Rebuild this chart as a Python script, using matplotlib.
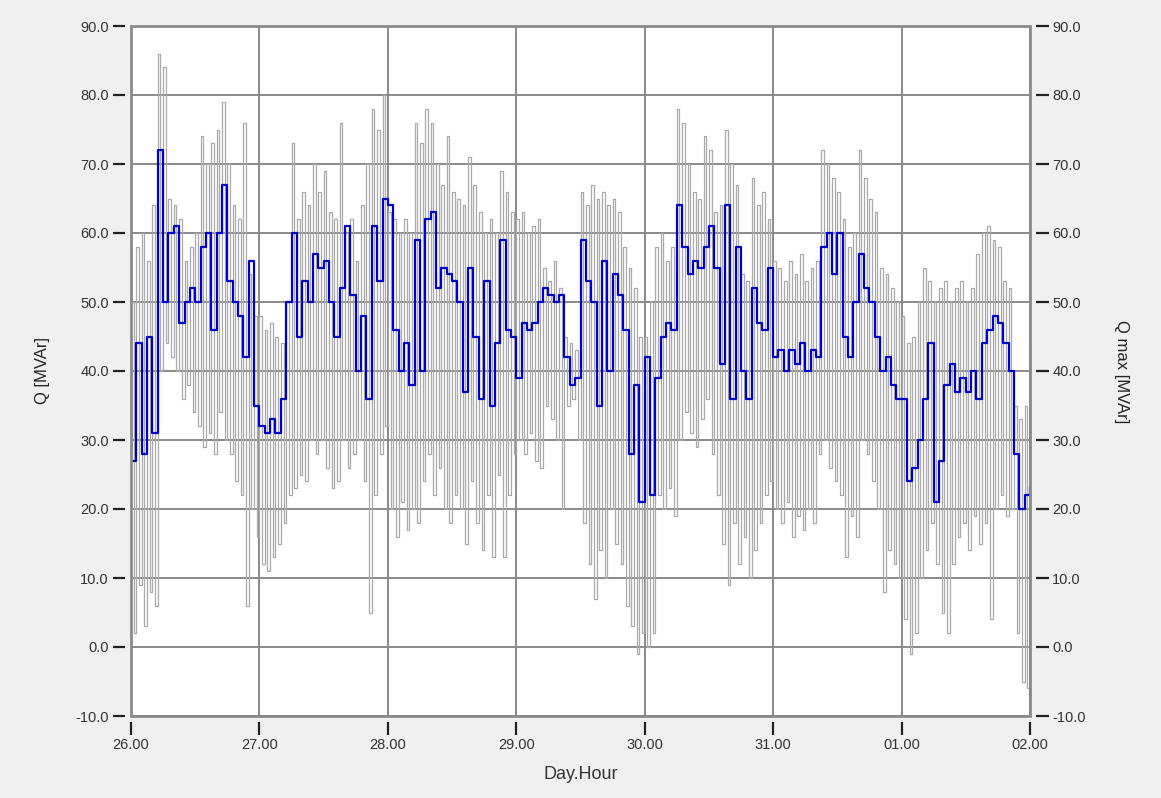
import numpy as np
import matplotlib
matplotlib.use("Agg")
import matplotlib.pyplot as plt
from matplotlib.patches import Rectangle

# Hourly reactive power Q [MVAr], one row per day (26 .. 01), plus final sample at 02.00
q_values = [
    27, 44, 28, 45, 31, 72, 50, 60, 61, 47, 50, 52, 50, 58, 60, 46, 60, 67, 53, 50, 48, 42, 56, 35,
    32, 31, 33, 31, 36, 50, 60, 45, 53, 50, 57, 55, 56, 50, 45, 52, 61, 51, 40, 48, 36, 61, 53, 65,
    64, 46, 40, 44, 38, 59, 40, 62, 63, 52, 55, 54, 53, 50, 37, 55, 45, 36, 53, 35, 44, 59, 46, 45,
    39, 47, 46, 47, 50, 52, 51, 50, 51, 42, 38, 39, 59, 53, 50, 35, 56, 40, 54, 51, 46, 28, 38, 21,
    42, 22, 39, 45, 47, 46, 64, 58, 54, 56, 55, 58, 61, 55, 41, 64, 36, 58, 40, 36, 52, 47, 46, 55,
    42, 43, 40, 43, 41, 44, 40, 43, 42, 58, 60, 54, 60, 45, 42, 50, 57, 52, 50, 45, 40, 42, 38, 36,
    36, 24, 26, 30, 36, 44, 21, 27, 38, 41, 37, 39, 37, 40, 36, 44, 46, 48, 47, 44, 40, 28, 20, 22,
    23,
]

# Hourly upper and lower swing of Q max [MVAr]
qmax_high = [
    50, 58, 60, 56, 64, 86, 84, 65, 64, 62, 56, 58, 60, 74, 70, 73, 75, 79, 70, 64, 62, 76, 54, 48,
    48, 46, 47, 45, 44, 50, 73, 62, 66, 64, 70, 66, 69, 63, 62, 76, 60, 62, 56, 64, 70, 78, 75, 80,
    63, 62, 60, 62, 60, 76, 73, 78, 76, 70, 67, 74, 66, 65, 64, 71, 67, 63, 60, 62, 60, 69, 66, 63,
    62, 63, 60, 61, 62, 55, 53, 56, 52, 45, 44, 43, 66, 64, 67, 65, 66, 64, 65, 63, 58, 55, 52, 45,
    45, 50, 58, 60, 56, 58, 78, 76, 70, 66, 65, 74, 72, 63, 64, 75, 70, 67, 54, 53, 68, 64, 66, 62,
    56, 55, 53, 56, 54, 57, 53, 55, 56, 72, 70, 68, 66, 62, 58, 60, 72, 68, 65, 63, 55, 54, 52, 50,
    48, 44, 45, 50, 55, 53, 50, 52, 53, 50, 52, 53, 50, 52, 57, 60, 61, 59, 58, 53, 52, 35, 33, 35,
    30,
]
qmax_low = [
    2, 9, 3, 8, 6, 40, 44, 42, 40, 36, 38, 34, 32, 29, 31, 28, 34, 30, 28, 24, 22, 6, 20, 16,
    12, 11, 13, 15, 18, 22, 23, 25, 24, 30, 28, 30, 26, 23, 24, 30, 26, 28, 30, 24, 5, 22, 28, 32,
    20, 16, 21, 17, 20, 18, 24, 28, 22, 26, 20, 18, 22, 20, 15, 24, 18, 14, 22, 13, 25, 13, 22, 28,
    30, 28, 31, 27, 26, 35, 33, 30, 20, 35, 36, 30, 18, 12, 7, 14, 10, 20, 15, 12, 6, 3, -1, 2,
    0, 2, 22, 20, 23, 19, 30, 34, 31, 29, 33, 36, 28, 22, 15, 9, 18, 12, 16, 10, 14, 18, 22, 24,
    20, 18, 21, 16, 19, 17, 20, 18, 28, 30, 26, 24, 22, 13, 19, 16, 30, 28, 24, 20, 8, 14, 12, 10,
    4, -1, 2, 10, 14, 18, 12, 5, 2, 12, 16, 18, 14, 19, 15, 18, 4, 20, 22, 19, 20, 2, -5, -6,
    20,
]

day_labels = ["26.00", "27.00", "28.00", "29.00", "30.00", "31.00", "01.00", "02.00"]
y_ticks = [-10, 0, 10, 20, 30, 40, 50, 60, 70, 80, 90]

hours = np.arange(len(q_values))

# Q max swings between its upper and lower value within every hour
qmax_t = np.empty(2 * len(qmax_high))
qmax_t[0::2] = hours
qmax_t[1::2] = hours + 0.5
qmax_v = np.empty(2 * len(qmax_high))
qmax_v[0::2] = qmax_high
qmax_v[1::2] = qmax_low
qmax_t = qmax_t[:-1]
qmax_v = qmax_v[:-1]

plt.rcParams["font.family"] = ["Liberation Sans", "DejaVu Sans"]

fig = plt.figure(figsize=(11.61, 7.98), dpi=100, facecolor="#f0f0f0")
ax = fig.add_axes([131 / 1161, 82 / 798, 899 / 1161, 690 / 798])
ax.set_facecolor("white")

grid_c = "#8a8a8a"
ax.set_axisbelow(True)
ax.grid(True, color=grid_c, linewidth=1.4)

ax.step(qmax_t, qmax_v, where="post", color="#aaaaaa", linewidth=0.9, zorder=2)
ax.step(hours, q_values, where="post", color="#0000cc", linewidth=1.6, zorder=3)

ax.set_xlim(0, 168)
ax.set_ylim(-10, 90)
ax.set_xticks(np.arange(0, 169, 24))
ax.set_xticklabels(day_labels)
ax.set_yticks(y_ticks)
ax.set_yticklabels([f"{v:.1f}" for v in y_ticks])

for side in ["left", "right", "bottom", "top"]:
    ax.spines[side].set_visible(False)
for side in ["left", "right", "bottom"]:
    ax.spines[side].set_position(("outward", 4))

ax.add_patch(Rectangle((0, 0), 1, 1, transform=ax.transAxes, fill=False,
                       edgecolor=grid_c, linewidth=2.0, zorder=5, clip_on=False))

ax.tick_params(axis="both", which="major", direction="out", length=9, width=1.6,
               color="#222222", labelsize=10.5, labelcolor="#333333", pad=3)
ax.tick_params(axis="y", left=True, right=True, labelleft=True, labelright=True)

ax.set_xlabel("Day.Hour", fontsize=13, color="#333333", labelpad=10)
ax.set_ylabel("Q [MVAr]", fontsize=12, color="#222222", labelpad=18)
fig.text(1122 / 1161, 1 - 372 / 798, "Q max [MVAr]", rotation=270, fontsize=12,
         color="#222222", ha="center", va="center")

fig.savefig("out.png", dpi=100, facecolor=fig.get_facecolor())
